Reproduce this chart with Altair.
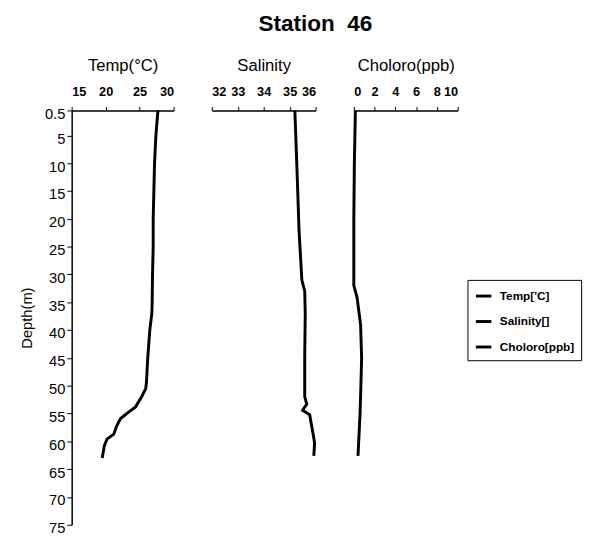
import altair as alt
import pandas as pd

# ---- data ----
temp_depth = [0.5, 5, 10, 15, 20, 25, 30, 35, 37, 40, 45, 49.5, 50.5, 52, 53.8, 55, 55.9, 57.3, 58.7, 59.6, 60.8, 63]
temp_vals = [27.7, 27.4, 27.2, 27.1, 27.0, 27.0, 26.9, 26.85, 26.8, 26.5, 26.2, 26.0, 25.9, 25.3, 24.4, 23.1, 22.2, 21.6, 21.2, 20.2, 19.8, 19.5]

sal_depth = [0.5, 13.5, 22, 31, 33, 37, 45, 52, 53.3, 54.4, 55.2, 58.6, 60.3, 62.6]
sal_vals = [35.2, 35.3, 35.36, 35.47, 35.58, 35.6, 35.58, 35.58, 35.66, 35.5, 35.77, 35.9, 35.96, 35.93]

chl_depth = [0.5, 10, 20, 32, 34, 39, 45, 50, 55, 62.6]
chl_vals = [0.15, 0.05, 0.0, 0.0, 0.3, 0.65, 0.75, 0.68, 0.6, 0.4]

series_names = ["Temp['C]", "Salinity[]", "Choloro[ppb]"]
panel_titles = ["Temp(\u00b0C)", "Salinity", "Choloro(ppb)"]
depth_ticks = [0.5, 5, 10, 15, 20, 25, 30, 35, 40, 45, 50, 55, 60, 65, 70, 75]
temp_ticks = [15, 20, 25, 30]
sal_ticks = [32, 33, 34, 35, 36]
chl_ticks = [0, 2, 4, 6, 8, 10]

FONT = "Liberation Sans"
H = 423

color_scale = alt.Scale(domain=series_names, range=["black", "black", "black"])
y_scale = alt.Scale(domain=[0.5, 75], reverse=True, nice=False, zero=False)


def panel(depths, vals, name, title, ticks, domain, show_y, width):
    df = pd.DataFrame({"depth": depths, "value": vals, "series": name})
    y_axis = alt.Axis(
        values=depth_ticks, format="~g", title="Depth(m)", grid=False,
        labelFontSize=15, titleFontSize=15, titleFontWeight="normal",
        labelOffset=3,
        labelPadding=2, tickSize=5, titlePadding=10,
        domainColor="black", tickColor="black", labelColor="black", titleColor="black",
        domainWidth=1.5,
    ) if show_y else None
    return alt.Chart(df).mark_line(strokeWidth=3, color="black").encode(
        x=alt.X("value:Q", scale=alt.Scale(domain=domain, nice=False, zero=False),
                axis=alt.Axis(orient="top", values=ticks, title=title, grid=False,
                              labelFontSize=13, labelFontWeight="bold",
                              titleFontSize=17, titleFontWeight="normal",
                              tickSize=4, labelPadding=8, titlePadding=12,
                              domainColor="black", tickColor="black",
                              labelColor="black", titleColor="black",
                              domainWidth=1.5)),
        y=alt.Y("depth:Q", scale=y_scale, axis=y_axis),
        color=alt.Color("series:N", scale=color_scale,
                        legend=alt.Legend(title=None)),
        order=alt.Order("depth:Q"),
    ).properties(width=width, height=H)


c1 = panel(temp_depth, temp_vals, series_names[0], panel_titles[0], temp_ticks, [15, 30], True, 104)
c2 = panel(sal_depth, sal_vals, series_names[1], panel_titles[1], sal_ticks, [32, 36], False, 106)
c3 = panel(chl_depth, chl_vals, series_names[2], panel_titles[2], chl_ticks, [0, 10], False, 106)

chart = alt.hconcat(c1, c2, c3, spacing=39, bounds="flush").properties(
    title=alt.TitleParams("Station\u00a0\u00a046", fontSize=23, fontWeight="bold",
                          anchor="middle", font=FONT, color="black", offset=19,
                          dx=15, dy=-2),
    padding={"left": 12, "top": 0, "right": 5, "bottom": 0},
).configure(font=FONT).configure_view(stroke=None).configure_legend(
    orient="none", legendX=404, legendY=173,
    strokeColor="black", strokeWidth=1, padding=7,
    symbolType="stroke", symbolStrokeWidth=3, symbolSize=250,
    labelFontSize=12, labelFontWeight="bold", labelFont=FONT, labelOffset=7,
    labelColor="black", rowPadding=10,
)

chart.save("out.html", embed_options={"renderer": "svg", "actions": False})
